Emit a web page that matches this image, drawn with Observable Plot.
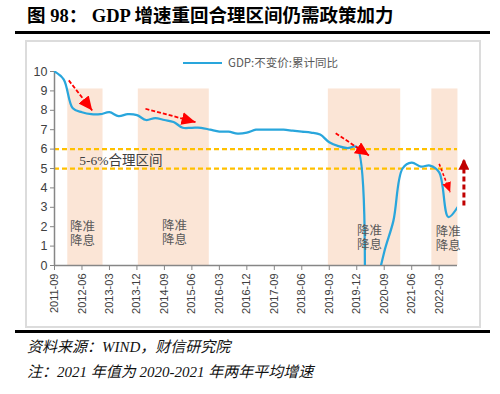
<!DOCTYPE html>
<html><head><meta charset="utf-8">
<script src="https://cdn.jsdelivr.net/npm/d3@7"></script>
<script src="https://cdn.jsdelivr.net/npm/@observablehq/plot@0.6"></script>
<style>
body{margin:0;background:#fff;}
#wrap{position:relative;width:500px;height:394px;overflow:hidden;background:#fff;}
#title{position:absolute;left:27px;top:6px;line-height:20px;font-weight:bold;font-size:18.5px;font-family:"Liberation Serif","Noto Sans CJK SC",serif;white-space:nowrap;color:#000;}
.rule{position:absolute;left:15px;width:475px;height:3px;background:#000;}
#frame{position:absolute;left:25px;top:40px;width:452px;height:284px;border:2px solid #dcdcdc;}
#legend{position:absolute;left:183px;top:53px;height:18px;white-space:nowrap;font-family:"Noto Sans CJK SC",sans-serif;font-size:11.5px;color:#595959;line-height:18px;}
#legend .sw{display:inline-block;width:39px;height:2.5px;background:#29A6DC;vertical-align:middle;margin-right:6px;position:relative;top:-1px;}
#chart{position:absolute;left:0;top:40px;}
.cap{position:absolute;left:27px;font-style:italic;font-size:15px;line-height:18px;font-family:"Liberation Serif","Noto Sans CJK SC",serif;color:#111;white-space:nowrap;}
</style>
</head><body>
<div id="wrap">
  <div id="title">图 98： GDP 增速重回合理区间仍需政策加力</div>
  <div class="rule" style="top:31px"></div>
  <div id="frame"></div>
  <div id="chart"></div>
  <div id="legend"><span class="sw"></span>GDP:不变价:累计同比</div>
  <div class="rule" style="top:330px"></div>
  <div class="cap" style="top:338px">资料来源：WIND，财信研究院</div>
  <div class="cap" style="top:363px">注：2021 年值为 2020-2021 年两年平均增速</div>
</div>
<script>
// Quarterly categories
const quarters = ["2011-09","2011-12","2012-03","2012-06","2012-09","2012-12","2013-03","2013-06","2013-09","2013-12",
"2014-03","2014-06","2014-09","2014-12","2015-03","2015-06","2015-09","2015-12","2016-03","2016-06","2016-09","2016-12",
"2017-03","2017-06","2017-09","2017-12","2018-03","2018-06","2018-09","2018-12","2019-03","2019-06","2019-09","2019-12",
"2020-03","2020-06","2020-09","2020-12","2021-03","2021-06","2021-09","2021-12","2022-03","2022-06","2022-09"];
// GDP: constant price, cumulative YoY (%)
const gdp = [10.0, 9.6, 8.1, 7.9, 7.8, 7.8, 7.9, 7.7, 7.8, 7.75, 7.5, 7.6, 7.5, 7.4, 7.1, 7.1, 7.1, 7.0, 6.9, 6.9, 6.8, 6.85,
7.0, 7.0, 7.0, 7.0, 6.95, 6.9, 6.85, 6.75, 6.35, 6.15, 6.05, 6.1, -6.8, -1.6, 0.7, 2.3, 5.0, 5.3, 5.1, 5.15, 4.8, 2.5, 3.0];
// tick labels shown (every third quarter)
const tickLabels = ["2011-09","2012-06","2013-03","2013-12","2014-09","2015-06","2016-03","2016-12","2017-09","2018-06","2019-03","2019-12","2020-09","2021-06","2022-03"];
const yTicks = [0,1,2,3,4,5,6,7,8,9,10];
// Easing periods (in quarter-index units) and their labels
const easeStart = [1.45, 9.15, 29.9, 41.2];
const easeEnd = [5.3, 16.9, 37.8, 44.05];
const easeTop = 9.1;
const easeLabelX = [3.05, 13.1, 34.4, 43.0];
const easeLabelY = [1.65, 1.7, 1.46, 1.4];
const easeText = "降准\n降息";
// Reasonable range band
const bandLines = [5, 6];
const bandText = "5-6%合理区间";
const bandTextPos = [2.7, 5.42];
// Arrows: [x1, y1, x2, y2] in (quarter index, %)
const bigArrows = [[1.56, 9.54, 4.12, 7.99], [9.93, 8.08, 15.4, 7.39], [30.7, 6.82, 34.35, 5.67]];
const smallArrows = [[42.0, 5.24, 43.2, 3.78]];
const upArrows = [[44.7, 3.09, 44.7, 5.5]];

const series = gdp.map((v, i) => ({i, v, q: quarters[i]}));
const ease = easeStart.map((s, k) => ({s, e: easeEnd[k], top: easeTop}));
const easeLbl = easeLabelX.map((x, k) => ({x, y: easeLabelY[k], t: easeText}));
const toArr = a => a.map(([x1, y1, x2, y2]) => ({x1, y1, x2, y2}));
const tickIdx = tickLabels.map(t => quarters.indexOf(t));

const svg = Plot.plot({
  width: 500, height: 290,
  marginLeft: 54, marginRight: 43, marginTop: 31, marginBottom: 65,
  style: {fontFamily: "'Liberation Sans','Noto Sans CJK SC',sans-serif", fontSize: "11px", background: "transparent", color: "#404040"},
  x: {type: "linear", domain: [0, quarters.length - 1]},
  y: {domain: [0, 10]},
  marks: [
    Plot.rect(ease, {x1: "s", x2: "e", y1: 0, y2: "top", fill: "#FBE5D6"}),
    Plot.ruleY(bandLines, {stroke: "#FFC000", strokeWidth: 2.25, strokeDasharray: "5,3"}),
    Plot.ruleY([0], {stroke: "#868686", strokeWidth: 1.5}),
    Plot.ruleX([0], {stroke: "#868686", strokeWidth: 1.5}),
    Plot.axisX({ticks: tickIdx, tickFormat: i => quarters[i], tickRotate: -90, tickSize: 5, tickPadding: 3, stroke: "#868686", fill: "#404040", fontSize: 11, label: null}),
    Plot.axisY({ticks: yTicks, tickSize: 4, tickPadding: 3, stroke: "#868686", fill: "#404040", fontSize: 12.5, label: null}),
    Plot.line(series, {x: "i", y: "v", stroke: "#29A6DC", strokeWidth: 2.25, curve: "catmull-rom", clip: true}),
    Plot.text([bandText], {x: bandTextPos[0], y: bandTextPos[1], text: d => d, textAnchor: "start", fontSize: 13.5, fill: "#404040", fontFamily: "'Liberation Serif','Noto Sans CJK SC',serif"}),
    Plot.text(easeLbl, {x: "x", y: "y", text: "t", fontSize: 12.5, lineHeight: 1.15, fill: "#595959", fontFamily: "'Liberation Serif','Noto Sans CJK SC',serif"}),
    Plot.link(toArr(bigArrows), {x1: "x1", y1: "y1", x2: "x2", y2: "y2", stroke: "#FF0000", strokeWidth: 1.8, strokeDasharray: "4,2"}),
    Plot.link(toArr(smallArrows), {x1: "x1", y1: "y1", x2: "x2", y2: "y2", stroke: "#FF0000", strokeWidth: 1.6, strokeDasharray: "3,2"}),
    Plot.link(toArr(upArrows), {x1: "x1", y1: "y1", x2: "x2", y2: "y2", stroke: "#C00000", strokeWidth: 3, strokeDasharray: "5,3"})
  ]
});

// filled triangle arrowheads
const s = d3.select(svg);
const defs = s.insert("defs", ":first-child");
function addMarker(id, color, len, wid) {
  defs.append("marker").attr("id", id).attr("markerUnits", "userSpaceOnUse")
    .attr("viewBox", `0 ${-wid / 2} ${len} ${wid}`).attr("refX", len).attr("refY", 0)
    .attr("markerWidth", len).attr("markerHeight", wid).attr("orient", "auto")
    .append("path").attr("d", `M0,${-wid / 2}L${len},0L0,${wid / 2}Z`).attr("fill", color).attr("stroke", "none");
}
addMarker("mBig", "#FF0000", 14, 13);
addMarker("mSmall", "#FF0000", 10, 9);
addMarker("mUp", "#C00000", 11, 11);
const linkGroups = s.selectAll('g[aria-label="link"]').nodes();
const ids = ["mBig", "mSmall", "mUp"];
linkGroups.forEach((g, k) => d3.select(g).selectAll("path").attr("marker-end", `url(#${ids[k]})`));

document.getElementById("chart").appendChild(svg);
</script>
</body></html>
